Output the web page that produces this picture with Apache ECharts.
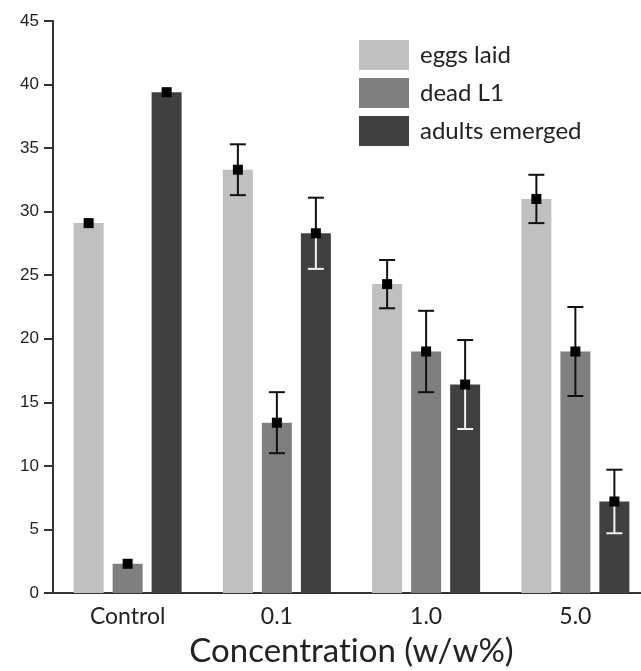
<!DOCTYPE html>
<html>
<head>
<meta charset="utf-8">
<script src="https://cdn.jsdelivr.net/npm/echarts@6/dist/echarts.min.js"></script>
<style>
  html, body { margin: 0; padding: 0; background: #fff; }
  #chart { width: 641px; height: 671px; }
</style>
</head>
<body>
<div id="chart"></div>
<script>
// data
const categories = ['Control', '0.1', '1.0', '5.0']
const seriesNames = ['eggs laid', 'dead L1', 'adults emerged']
const eggsLaid = [29.1, 33.3, 24.3, 31.0]
const deadL1 = [2.3, 13.4, 19.0, 19.0]
const adultsEmerged = [39.4, 28.3, 16.4, 7.2]
const eggsErr = [0, 2.0, 1.9, 1.9]
const deadErr = [0, 2.4, 3.2, 3.5]
const adultsErr = [0, 2.8, 3.5, 2.5]
const yTicks = [0, 5, 10, 15, 20, 25, 30, 35, 40, 45]

const colors = ['#c0c0c0', '#7f7f7f', '#404040']
const values = [eggsLaid, deadL1, adultsEmerged]
const errors = [eggsErr, deadErr, adultsErr]

const BAR_W = 30
const BAR_STEP = 39

const chart = echarts.init(document.getElementById('chart'))

// error bar + square marker for each bar
const errData = []
values.forEach((arr, s) => {
  arr.forEach((v, i) => errData.push([i, v, errors[s][i], s]))
})

const renderErr = (params, api) => {
  const i = api.value(0)
  const v = api.value(1)
  const e = api.value(2)
  const s = api.value(3)
  const c = api.coord([i, v])
  const x = c[0] + (s - 1) * BAR_STEP
  const yTop = api.coord([i, v + e])[1]
  const yBot = api.coord([i, v - e])[1]
  const cap = 8
  const upColor = '#111'
  // whisker inside the dark bar is drawn light
  const lowColor = s === 2 ? '#f2f2f2' : '#111'
  const children = []
  if (e > 0) {
    children.push(
      { type: 'line', shape: { x1: x, y1: yTop, x2: x, y2: c[1] }, style: { stroke: upColor, lineWidth: 2 } },
      { type: 'line', shape: { x1: x - cap, y1: yTop, x2: x + cap, y2: yTop }, style: { stroke: upColor, lineWidth: 2 } },
      { type: 'line', shape: { x1: x, y1: c[1], x2: x, y2: yBot }, style: { stroke: lowColor, lineWidth: 2 } },
      { type: 'line', shape: { x1: x - cap, y1: yBot, x2: x + cap, y2: yBot }, style: { stroke: lowColor, lineWidth: 2 } }
    )
  }
  children.push({ type: 'rect', shape: { x: x - 5, y: c[1] - 5, width: 10, height: 10 }, style: { fill: '#000' } })
  return { type: 'group', children }
}

const option = {
  animation: false,
  grid: { left: 53, top: 21, bottom: 78, width: 597, outerBoundsMode: 'none', containLabel: false },
  legend: {
    data: seriesNames,
    orient: 'vertical',
    left: 354,
    top: 35,
    icon: 'rect',
    itemWidth: 50,
    itemHeight: 30,
    itemGap: 8,
    textStyle: { fontFamily: 'Lato', fontSize: 24, color: '#222', padding: [0, 0, 0, 6] }
  },
  xAxis: {
    type: 'category',
    data: categories,
    name: 'Concentrat\u200Bion (w/w%)',
    nameLocation: 'middle',
    nameGap: 42,
    nameTextStyle: { fontFamily: 'Lato', fontSize: 33, color: '#222' },
    axisLine: { lineStyle: { color: '#333', width: 2 } },
    axisTick: { alignWithLabel: true, length: 8, lineStyle: { color: '#333', width: 2 } },
    axisLabel: { fontFamily: 'Lato', fontSize: 23, color: '#222', margin: 12 }
  },
  yAxis: {
    type: 'value',
    min: yTicks[0],
    max: yTicks[yTicks.length - 1],
    interval: 5,
    axisLine: { show: true, lineStyle: { color: '#333', width: 2 } },
    axisTick: { show: true, length: 9, lineStyle: { color: '#333', width: 2 } },
    splitLine: { show: false },
    axisLabel: { fontFamily: 'Liberation Sans', fontSize: 17, color: '#222', margin: 14 }
  },
  series: [
    ...seriesNames.map((name, s) => ({
      name,
      type: 'bar',
      data: values[s],
      barWidth: BAR_W,
      barGap: '30%',
      itemStyle: { color: colors[s] }
    })),
    {
      type: 'custom',
      renderItem: renderErr,
      data: errData,
      encode: { x: 0, y: 1 },
      z: 10
    }
  ]
}

chart.setOption(option)
</script>
</body>
</html>
